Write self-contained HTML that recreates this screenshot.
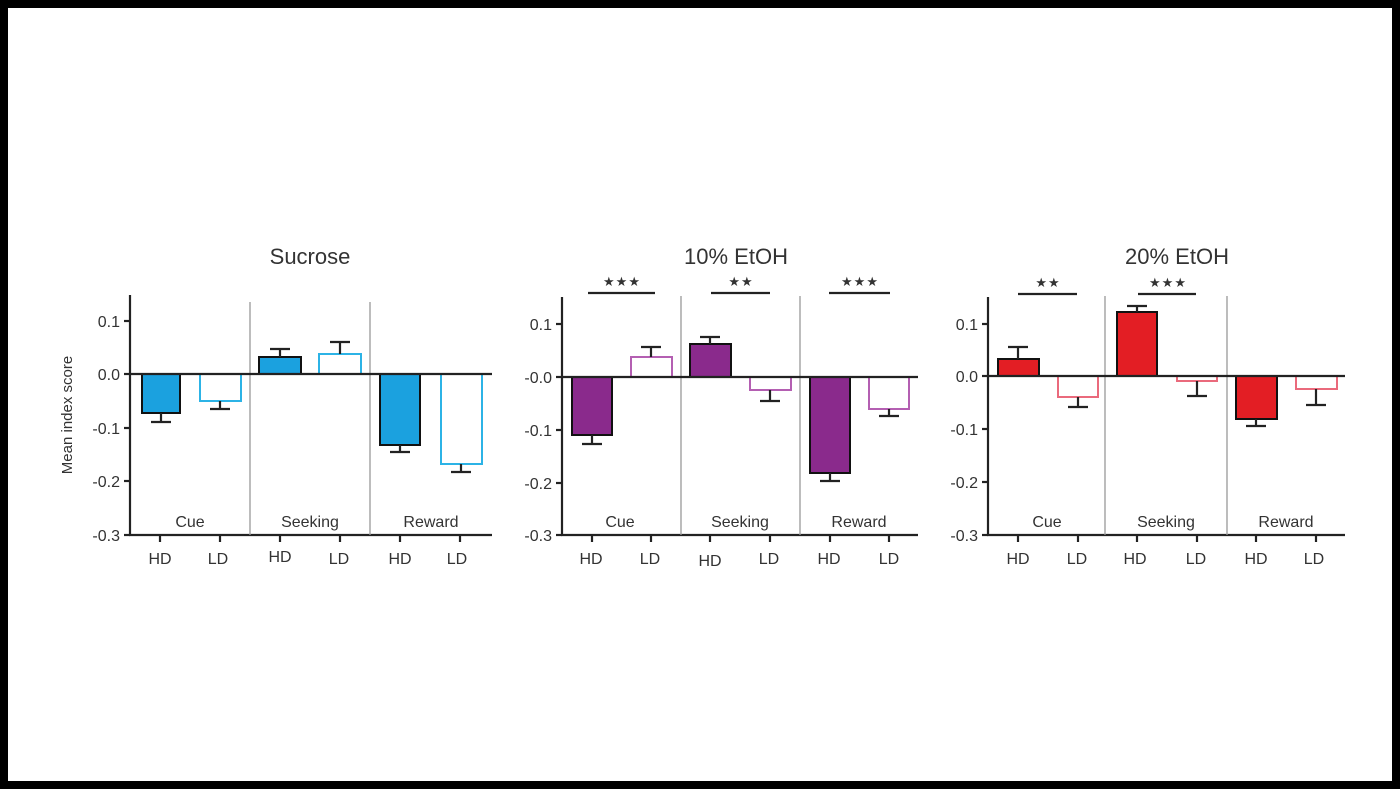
<!DOCTYPE html>
<html><head><meta charset="utf-8"><style>
html,body{margin:0;padding:0;background:#000;}
svg{display:block;}
text{font-family:"Liberation Sans",Arial,sans-serif;fill:#333;}
</style></head><body>
<svg width="1400" height="789" viewBox="0 0 1400 789" xmlns="http://www.w3.org/2000/svg">
<rect x="0" y="0" width="1400" height="789" fill="#000"/>
<rect x="8" y="8" width="1384" height="773" fill="#fff"/>

<text x="310" y="264" font-size="22" text-anchor="middle">Sucrose</text>
<text x="736" y="264" font-size="22" text-anchor="middle">10% EtOH</text>
<text x="1177" y="264" font-size="22" text-anchor="middle">20% EtOH</text>

<text transform="translate(72,415) rotate(-90)" font-size="15" text-anchor="middle">Mean index score</text>

<g stroke="#222" stroke-width="2.2" fill="none">
<line x1="130" y1="295" x2="130" y2="536"/>
<line x1="129" y1="535" x2="492" y2="535"/>
<line x1="124" y1="321" x2="130" y2="321"/><line x1="124" y1="374" x2="130" y2="374"/><line x1="124" y1="428" x2="130" y2="428"/><line x1="124" y1="481" x2="130" y2="481"/><line x1="124" y1="535" x2="130" y2="535"/>
<line x1="160" y1="535" x2="160" y2="542"/><line x1="220" y1="535" x2="220" y2="542"/><line x1="280" y1="535" x2="280" y2="542"/><line x1="340" y1="535" x2="340" y2="542"/><line x1="400" y1="535" x2="400" y2="542"/><line x1="460" y1="535" x2="460" y2="542"/>
<line x1="562" y1="297" x2="562" y2="536"/>
<line x1="561" y1="535" x2="918" y2="535"/>
<line x1="556" y1="324" x2="562" y2="324"/><line x1="556" y1="377" x2="562" y2="377"/><line x1="556" y1="430" x2="562" y2="430"/><line x1="556" y1="483" x2="562" y2="483"/><line x1="556" y1="535" x2="562" y2="535"/>
<line x1="592" y1="535" x2="592" y2="542"/><line x1="651" y1="535" x2="651" y2="542"/><line x1="710" y1="535" x2="710" y2="542"/><line x1="770" y1="535" x2="770" y2="542"/><line x1="830" y1="535" x2="830" y2="542"/><line x1="889" y1="535" x2="889" y2="542"/>
<line x1="988" y1="297" x2="988" y2="536"/>
<line x1="987" y1="535" x2="1345" y2="535"/>
<line x1="982" y1="324" x2="988" y2="324"/><line x1="982" y1="376" x2="988" y2="376"/><line x1="982" y1="429" x2="988" y2="429"/><line x1="982" y1="482" x2="988" y2="482"/><line x1="982" y1="535" x2="988" y2="535"/>
<line x1="1018" y1="535" x2="1018" y2="542"/><line x1="1078" y1="535" x2="1078" y2="542"/><line x1="1137" y1="535" x2="1137" y2="542"/><line x1="1197" y1="535" x2="1197" y2="542"/><line x1="1256" y1="535" x2="1256" y2="542"/><line x1="1316" y1="535" x2="1316" y2="542"/>
<line x1="588" y1="293" x2="655" y2="293"/><line x1="711" y1="293" x2="770" y2="293"/><line x1="829" y1="293" x2="890" y2="293"/>
<line x1="1018" y1="294" x2="1077" y2="294"/><line x1="1138" y1="294" x2="1196" y2="294"/>
</g>

<g stroke="#999" stroke-width="1.3">
<line x1="250" y1="302" x2="250" y2="535"/><line x1="370" y1="302" x2="370" y2="535"/>
<line x1="681" y1="296" x2="681" y2="535"/><line x1="800" y1="296" x2="800" y2="535"/>
<line x1="1105" y1="296" x2="1105" y2="535"/><line x1="1227" y1="296" x2="1227" y2="535"/>
</g>

<g stroke-width="2">
<rect x="142" y="374" width="38" height="39" fill="#1ba1df" stroke="#111"/>
<rect x="200" y="374" width="41" height="27" fill="#fff" stroke="#2cb3e6"/>
<rect x="259" y="357" width="42" height="17" fill="#1ba1df" stroke="#111"/>
<rect x="319" y="354" width="42" height="20" fill="#fff" stroke="#2cb3e6"/>
<rect x="380" y="374" width="40" height="71" fill="#1ba1df" stroke="#111"/>
<rect x="441" y="374" width="41" height="90" fill="#fff" stroke="#2cb3e6"/>
</g>
<g stroke="#222" stroke-width="2.2">
<line x1="161" y1="413" x2="161" y2="422"/><line x1="151" y1="422" x2="171" y2="422"/>
<line x1="220" y1="401" x2="220" y2="409"/><line x1="210" y1="409" x2="230" y2="409"/>
<line x1="280" y1="357" x2="280" y2="349"/><line x1="270" y1="349" x2="290" y2="349"/>
<line x1="340" y1="354" x2="340" y2="342"/><line x1="330" y1="342" x2="350" y2="342"/>
<line x1="400" y1="445" x2="400" y2="452"/><line x1="390" y1="452" x2="410" y2="452"/>
<line x1="461" y1="464" x2="461" y2="472"/><line x1="451" y1="472" x2="471" y2="472"/>
</g>

<g stroke-width="2">
<rect x="572" y="377" width="40" height="58" fill="#8a2a8c" stroke="#111"/>
<rect x="631" y="357" width="41" height="20" fill="#fff" stroke="#b45fb2"/>
<rect x="690" y="344" width="41" height="33" fill="#8a2a8c" stroke="#111"/>
<rect x="750" y="377" width="41" height="13" fill="#fff" stroke="#b45fb2"/>
<rect x="810" y="377" width="40" height="96" fill="#8a2a8c" stroke="#111"/>
<rect x="869" y="377" width="40" height="32" fill="#fff" stroke="#b45fb2"/>
</g>
<g stroke="#222" stroke-width="2.2">
<line x1="592" y1="435" x2="592" y2="444"/><line x1="582" y1="444" x2="602" y2="444"/>
<line x1="651" y1="357" x2="651" y2="347"/><line x1="641" y1="347" x2="661" y2="347"/>
<line x1="710" y1="344" x2="710" y2="337"/><line x1="700" y1="337" x2="720" y2="337"/>
<line x1="770" y1="390" x2="770" y2="401"/><line x1="760" y1="401" x2="780" y2="401"/>
<line x1="830" y1="473" x2="830" y2="481"/><line x1="820" y1="481" x2="840" y2="481"/>
<line x1="889" y1="409" x2="889" y2="416"/><line x1="879" y1="416" x2="899" y2="416"/>
</g>

<g stroke-width="2">
<rect x="998" y="359" width="41" height="17" fill="#e31e24" stroke="#111"/>
<rect x="1058" y="376" width="40" height="21" fill="#fff" stroke="#ea6a7c"/>
<rect x="1117" y="312" width="40" height="64" fill="#e31e24" stroke="#111"/>
<rect x="1177" y="376" width="40" height="5" fill="#fff" stroke="#ea6a7c"/>
<rect x="1236" y="376" width="41" height="43" fill="#e31e24" stroke="#111"/>
<rect x="1296" y="376" width="41" height="13" fill="#fff" stroke="#ea6a7c"/>
</g>
<g stroke="#222" stroke-width="2.2">
<line x1="1018" y1="359" x2="1018" y2="347"/><line x1="1008" y1="347" x2="1028" y2="347"/>
<line x1="1078" y1="397" x2="1078" y2="407"/><line x1="1068" y1="407" x2="1088" y2="407"/>
<line x1="1137" y1="312" x2="1137" y2="306"/><line x1="1127" y1="306" x2="1147" y2="306"/>
<line x1="1197" y1="381" x2="1197" y2="396"/><line x1="1187" y1="396" x2="1207" y2="396"/>
<line x1="1256" y1="419" x2="1256" y2="426"/><line x1="1246" y1="426" x2="1266" y2="426"/>
<line x1="1316" y1="389" x2="1316" y2="405"/><line x1="1306" y1="405" x2="1326" y2="405"/>
</g>

<g stroke="#222" stroke-width="2.2">
<line x1="130" y1="374" x2="492" y2="374"/>
<line x1="562" y1="377" x2="918" y2="377"/>
<line x1="988" y1="376" x2="1345" y2="376"/>
</g>

<g font-size="16" text-anchor="end">
<text x="120" y="327">0.1</text><text x="120" y="380">0.0</text><text x="120" y="434">-0.1</text><text x="120" y="487">-0.2</text><text x="120" y="541">-0.3</text>
<text x="552" y="330">0.1</text><text x="552" y="383">-0.0</text><text x="552" y="436">-0.1</text><text x="552" y="489">-0.2</text><text x="552" y="541">-0.3</text>
<text x="978" y="330">0.1</text><text x="978" y="382">0.0</text><text x="978" y="435">-0.1</text><text x="978" y="488">-0.2</text><text x="978" y="541">-0.3</text>
</g>
<g font-size="16" text-anchor="middle">
<text x="190" y="527">Cue</text><text x="310" y="527">Seeking</text><text x="431" y="527">Reward</text>
<text x="620" y="527">Cue</text><text x="740" y="527">Seeking</text><text x="859" y="527">Reward</text>
<text x="1047" y="527">Cue</text><text x="1166" y="527">Seeking</text><text x="1286" y="527">Reward</text>
<text x="160" y="564">HD</text><text x="218" y="564">LD</text><text x="280" y="562">HD</text><text x="339" y="564">LD</text><text x="400" y="564">HD</text><text x="457" y="564">LD</text>
<text x="591" y="564">HD</text><text x="650" y="564">LD</text><text x="710" y="566">HD</text><text x="769" y="564">LD</text><text x="829" y="564">HD</text><text x="889" y="564">LD</text>
<text x="1018" y="564">HD</text><text x="1077" y="564">LD</text><text x="1135" y="564">HD</text><text x="1196" y="564">LD</text><text x="1256" y="564">HD</text><text x="1314" y="564">LD</text>
</g>
<g font-size="13" text-anchor="middle" letter-spacing="1" style="font-family:'DejaVu Sans',sans-serif">
<text x="622" y="286">★★★</text><text x="741" y="286">★★</text><text x="860" y="286">★★★</text>
<text x="1048" y="287">★★</text><text x="1168" y="287">★★★</text>
</g>
</svg>
</body></html>
